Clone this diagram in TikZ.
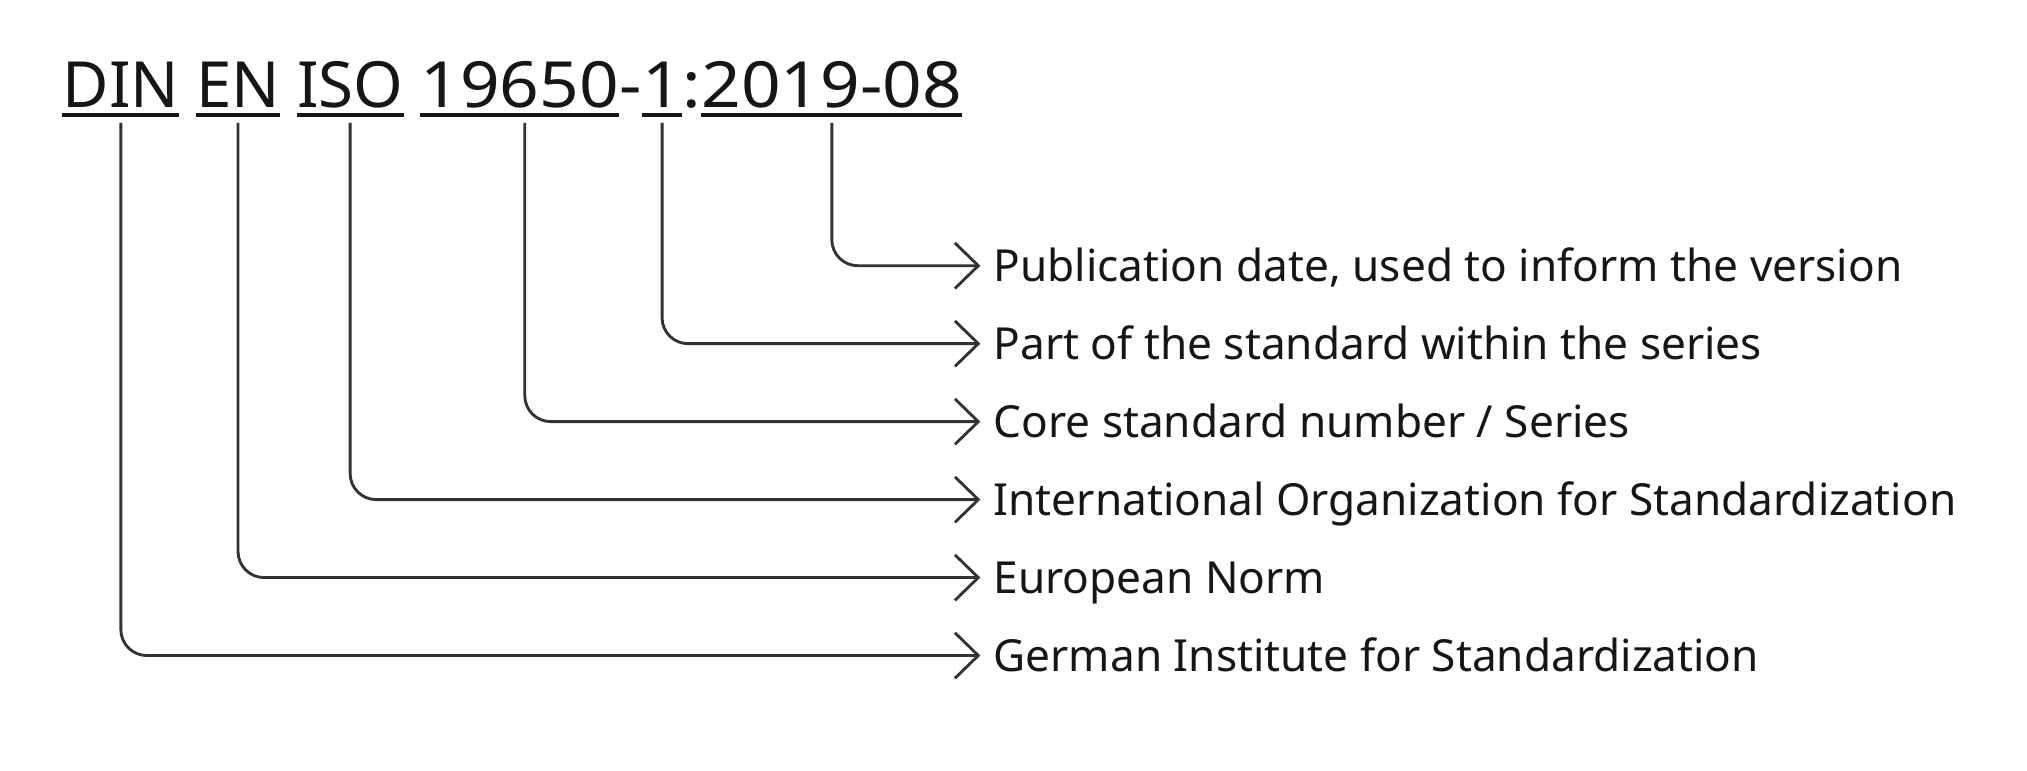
\documentclass[tikz,border=0pt]{standalone}
\usepackage{fontspec}
\setmainfont{Noto Sans}
\usetikzlibrary{arrows.meta}
\newfontfamily\plexfont{Noto Sans}
\newcommand{\titlefont}{\plexfont\fontsize{49pt}{58pt}\selectfont}
\newcommand{\labfont}{\plexfont\fontsize{34pt}{40pt}\selectfont}
\newcommand{\wide}[1]{\scalebox{1.09}[1]{#1}}
\newlength\tsp
\AtBeginDocument{{\titlefont\global\tsp=\fontdimen2\font}}
\definecolor{ink}{HTML}{161616}
\definecolor{wire}{HTML}{333333}
\begin{document}
\begin{tikzpicture}[x=1pt,y=-1pt,
  seg/.style={font=\titlefont, text=ink, inner sep=0pt, anchor=base west},
  lab/.style={font=\labfont, text=ink, inner sep=0pt, anchor=west, text height=24.5pt, text depth=0pt},
  uline/.style={draw=ink, line width=2.6pt},
  conn/.style={draw=wire, line width=2.2pt, rounded corners=20pt,
    -{Straight Barb[length=18pt,width=35pt]}}
]
\useasboundingbox (0,0) rectangle (1560,593);
% title segments
\node[seg] (din) at (48,82.5) {DIN};
\node[seg] (en) at ([xshift=\tsp]din.base east) {EN};
\node[seg] (iso) at ([xshift=\tsp]en.base east) {ISO};
\node[seg] (num) at ([xshift=\tsp]iso.base east) {\wide{19650}};
\node[seg] (dash) at (num.base east) {\wide{-}};
\node[seg] (part) at (dash.base east) {\wide{1}};
\node[seg] (colon) at (part.base east) {\wide{:}};
\node[seg] (date) at (colon.base east) {\wide{2019-08}};
% underlines
\foreach \n in {din,en,iso,num,part,date}{
  \draw[uline] ([yshift=-6pt]\n.base west) -- ([yshift=-6pt]\n.base east);
}
% labels
\node[lab] (lpub) at (764.5,204.5) {Publication date, used to inform the version};
\node[lab] (lpart) at (764.5,264.5) {Part of the standard within the series};
\node[lab] (lcore) at (764.5,324.5) {Core standard number / Series};
\node[lab] (liso) at (764.5,384.5) {International Organization for Standardization};
\node[lab] (len) at (764.5,444.5) {European Norm};
\node[lab] (ldin) at (764.5,504.5) {German Institute for Standardization};
% connectors
\draw[conn] ([yshift=-12pt]date.base) |- ([xshift=-10pt]lpub.west);
\draw[conn] ([yshift=-12pt]part.base) |- ([xshift=-10pt]lpart.west);
\draw[conn] ([yshift=-12pt,xshift=4pt]num.base) |- ([xshift=-10pt]lcore.west);
\draw[conn] ([yshift=-12pt]iso.base) |- ([xshift=-10pt]liso.west);
\draw[conn] ([yshift=-12pt]en.base) |- ([xshift=-10pt]len.west);
\draw[conn] ([yshift=-12pt]din.base) |- ([xshift=-10pt]ldin.west);
\end{tikzpicture}
\end{document}
